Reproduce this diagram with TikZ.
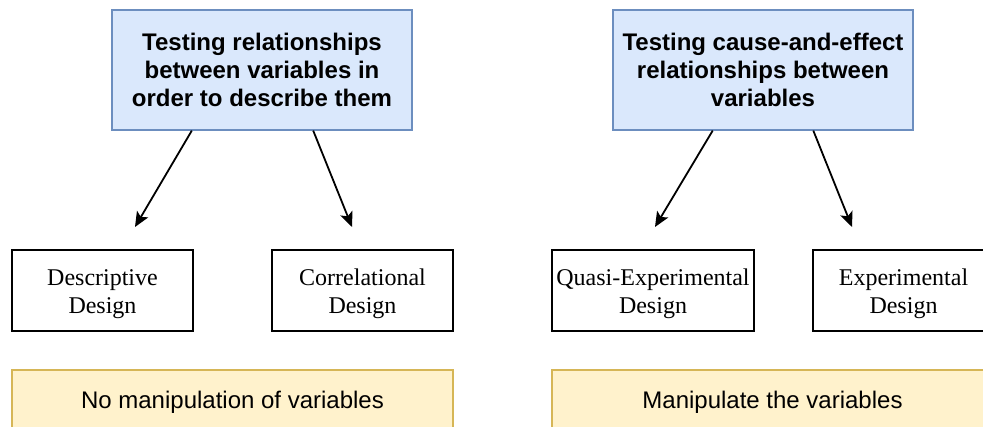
\documentclass[tikz,border=0pt]{standalone}
\usepackage{fontspec}
\setmainfont{Liberation Serif}
\newfontfamily\labelsans{Liberation Sans}
\usetikzlibrary{arrows.meta,calc}

\definecolor{topfill}{HTML}{DAE8FC}
\definecolor{topline}{HTML}{6C8EBF}
\definecolor{notefill}{HTML}{FFF2CC}
\definecolor{noteline}{HTML}{D6B656}

\tikzset{
  goalbox/.style={draw=topline, fill=topfill, line width=1.2pt, inner sep=0pt,
    minimum width=300pt, minimum height=120pt, align=center,
    font=\labelsans\bfseries\fontsize{24}{28}\selectfont},
  designbox/.style={draw=black, fill=white, line width=1.5pt, inner sep=0pt,
    minimum height=81pt, align=center, text height=52pt,
    font=\fontsize{24}{28}\selectfont},
  notebox/.style={draw=noteline, fill=notefill, line width=1.2pt, inner sep=0pt,
    minimum width=441pt, minimum height=60pt, align=center, text height=21pt,
    font=\labelsans\fontsize{24}{28}\selectfont},
  link/.style={draw=black, line width=1.8pt,
    -{Stealth[length=15pt, width=13pt, inset=3.5pt]}}
}

\begin{document}
\begin{tikzpicture}[x=1pt, y=-1pt]
  \useasboundingbox (0,0) rectangle (983,427);
  \clip (0,0) rectangle (983,427);

  % Goal boxes
  \node[goalbox] (goalA) at (262,70) {Testing relationships\\between variables in\\order to describe them};
  \node[goalbox] (goalB) at (763,70) {Testing cause-and-effect\\relationships between\\variables};

  % Research designs
  \node[designbox, minimum width=181pt] (desc)  at (102.5,290.5) {Descriptive\\Design};
  \node[designbox, minimum width=181pt] (corr)  at (362.5,290.5) {Correlational\\Design};
  \node[designbox, minimum width=202pt] (quasi) at (653,290.5)   {Quasi-Experimental\\Design};
  \node[designbox, minimum width=181pt] (expt)  at (903.5,290.5) {Experimental\\Design};

  % Notes along the bottom
  \node[notebox] (noteA) at (232.5,400) {No manipulation of variables};
  \node[notebox] (noteB) at (772.5,400) {Manipulate the variables};

  % Arrow tips end above the design boxes
  \coordinate (endA1) at (135,227);
  \coordinate (endA2) at (352,227);
  \coordinate (endB1) at (655,227);
  \coordinate (endB2) at (852,227);

  \draw[link] ($(goalA.south west)!0.267!(goalA.south east)$) -- (endA1);
  \draw[link] ($(goalA.south west)!0.67!(goalA.south east)$) -- (endA2);
  \draw[link] ($(goalB.south west)!0.333!(goalB.south east)$) -- (endB1);
  \draw[link] ($(goalB.south west)!0.667!(goalB.south east)$) -- (endB2);
\end{tikzpicture}
\end{document}
